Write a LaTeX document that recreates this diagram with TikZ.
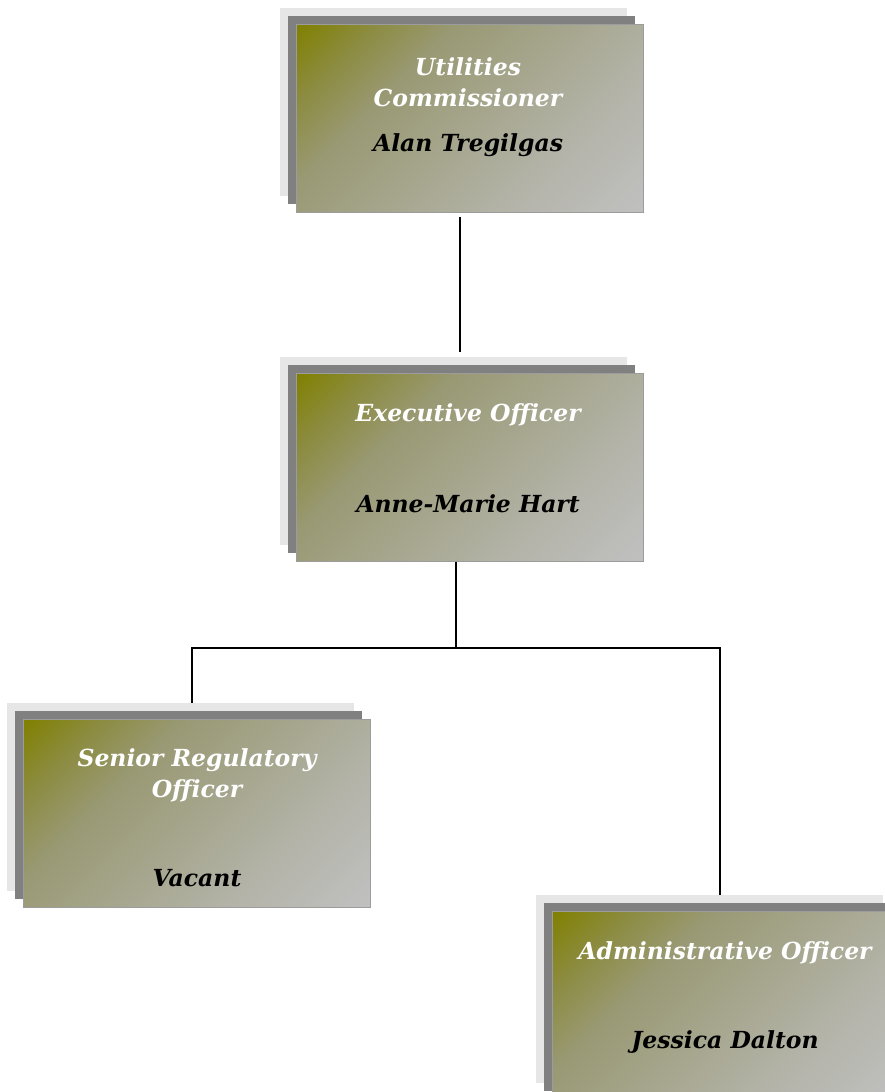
\documentclass[tikz,border=0pt]{standalone}
\usepackage{fontspec}
\setmainfont{DejaVu Serif}
\usepackage{tikz}
\usepackage{xcolor}
\usetikzlibrary{positioning, calc}

\definecolor{shadelight}{HTML}{E6E6E6}
\definecolor{shadedark}{HTML}{808080}
\definecolor{olivetop}{HTML}{808000}
\definecolor{olivetwo}{HTML}{8C8C42}
\definecolor{olivemid}{HTML}{999974}
\definecolor{greymid}{HTML}{A5A58C}
\definecolor{greylow}{HTML}{B4B4AA}
\definecolor{silverbot}{HTML}{C0C0C0}
\definecolor{rimgray}{HTML}{9C9C9C}

% corner-to-corner fill of the post boxes
\pgfdeclareverticalshading{postshade}{100bp}{color(0bp)=(silverbot); color(14.6bp)=(silverbot);
  color(32.3bp)=(greylow); color(50bp)=(greymid); color(64.2bp)=(olivemid);
  color(74.8bp)=(olivetwo); color(85.4bp)=(olivetop); color(100bp)=(olivetop)}

\tikzset{
  post/.style={rectangle, minimum width=347pt, minimum height=188pt, inner sep=0pt,
    draw=rimgray, line width=1pt, shading=postshade, shading angle=45,
    preaction={fill=shadelight, draw=none, transform canvas={shift={(-16pt,16pt)}}},
    preaction={fill=shadedark, draw=none, transform canvas={shift={(-8pt,8pt)}}}},
  role/.style={text=white, align=center, font=\fontsize{23.5}{31}\selectfont\bfseries\itshape},
  person/.style={text=black, align=center, font=\fontsize{23.5}{31}\selectfont\bfseries\itshape},
  link/.style={draw=black, line width=2pt}
}

\begin{document}
\begin{tikzpicture}[x=1pt,y=-1pt]
\useasboundingbox (0,0) rectangle (885,1092);
\clip (0,0) rectangle (885,1092);
% Boxes with their two stacked shadows
\node[post] (comm) at (469.5,118) {};
\node[post] (exec) at (469.5,467) {};
\node[post] (senior) at (196.5,813) {};
\node[post] (admin) at (725.5,1005) {};
% Position titles
\node[role] (commrole) at (468,82.5) {Utilities\\Commissioner};
\node[role] (execrole) at (468,415) {Executive Officer};
\node[role] (seniorrole) at (197,775.5) {Senior Regulatory\\Officer};
\node[role] (adminrole) at (725,953) {Administrative Officer};
% Names of the holders
\node[person] (commname) at (468,145) {Alan Tregilgas};
\node[person] (execname) at (468,504) {Anne-Marie Hart};
\node[person] (seniorname) at (197,878) {Vacant};
\node[person] (adminname) at (725,1042) {Jessica Dalton};
% Reporting lines
\draw[link] ([xshift=-9.8pt,yshift=-4pt]comm.south) -- ([xshift=-9.8pt,yshift=21pt]exec.north);
\draw[link] ([xshift=-13.5pt]exec.south) -- ++(0,86.5) coordinate (fork);
\draw[link] ([xshift=-4.8pt,yshift=16pt]senior.north) |- (fork) -| ([xshift=-5.8pt,yshift=16pt]admin.north);
\end{tikzpicture}
\end{document}
